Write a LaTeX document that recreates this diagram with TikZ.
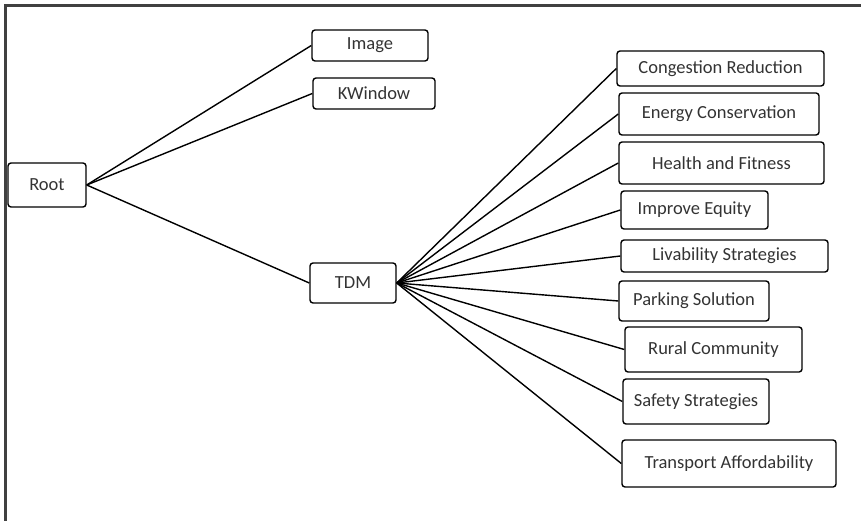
\documentclass[tikz,border=0pt]{standalone}
\usepackage{fontspec}
\setmainfont{Carlito}
\begin{document}
\begin{tikzpicture}[x=1pt,y=-1pt,
  box/.style={draw=black,line width=1.4pt,rounded corners=3pt,inner sep=0pt,
    text=black!80,font=\fontsize{18.5}{21}\selectfont,anchor=center},
  link/.style={draw=black,line width=1.4pt}]
\useasboundingbox (0,0) rectangle (861,521);
\draw[line width=2.2pt,black!75] (861,5.5) -- (5.5,5.5) -- (5.5,521);
\node[box,minimum width=78pt,minimum height=44pt] (root) at (47,185) {Root};
\node[box,minimum width=116pt,minimum height=31pt] (image) at (370,45.5) {Image};
\node[box,minimum width=122pt,minimum height=31pt] (kwin) at (374,93.5) {KWindow};
\node[box,minimum width=86pt,minimum height=40pt] (tdm) at (353,283) {TDM};
\node[box,minimum width=207pt,minimum height=35pt] (c1) at (720.5,68.5) {Congestion Reduction};
\node[box,minimum width=200pt,minimum height=42pt] (c2) at (719,114) {Energy Conservation};
\node[box,minimum width=205pt,minimum height=42pt] (c3) at (721.5,163) {Health and Fitness};
\node[box,minimum width=147pt,minimum height=38pt] (c4) at (694.5,210) {Improve Equity};
\node[box,minimum width=207pt,minimum height=32pt] (c5) at (724.5,256) {Livability Strategies};
\node[box,minimum width=150pt,minimum height=40pt] (c6) at (694,301) {Parking Solution};
\node[box,minimum width=177pt,minimum height=45pt] (c7) at (713.5,349.5) {Rural Community};
\node[box,minimum width=146pt,minimum height=45pt] (c8) at (696,401.5) {Safety Strategies};
\node[box,minimum width=214pt,minimum height=47pt] (c9) at (729,463.5) {Transport Affordability};
\foreach \t in {image,kwin,tdm} \draw[link] (root.east) -- (\t.west);
\foreach \t in {c1,c2,c3,c4,c5,c6,c7,c8,c9} \draw[link] (tdm.east) -- (\t.west);
\end{tikzpicture}
\end{document}
